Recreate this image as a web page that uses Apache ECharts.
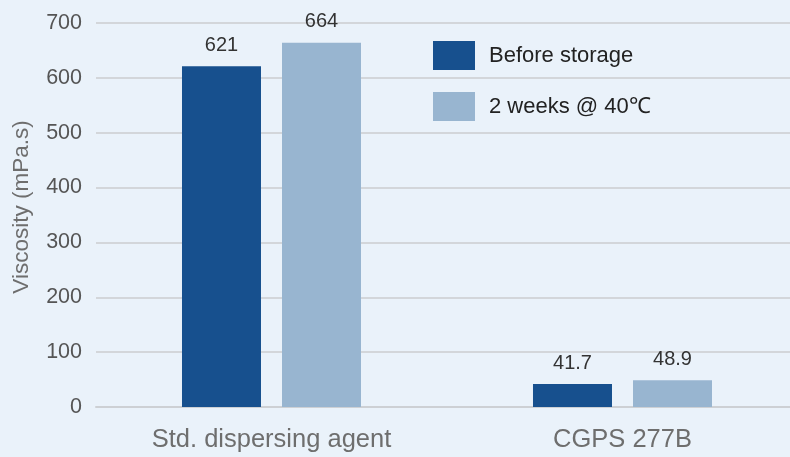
<!DOCTYPE html>
<html>
<head>
<meta charset="utf-8">
<script src="https://cdn.jsdelivr.net/npm/echarts@6/dist/echarts.min.js"></script>
<style>
html,body{margin:0;padding:0;background:#EAF2FA;}
#chart{width:790px;height:457px;}
</style>
</head>
<body>
<div id="chart"></div>
<script>
var categories = ['Std. dispersing agent', 'CGPS 277B'];
var seriesNames = ['Before storage', '2 weeks @ 40\u2103'];
var beforeStorage = [621, 41.7];
var after2Weeks = [664, 48.9];
var yTicks = [0, 100, 200, 300, 400, 500, 600, 700];

var FONT = '"Liberation Sans", Arial, Helvetica, sans-serif';
var chart = echarts.init(document.getElementById('chart'), null, {renderer: 'canvas'});
chart.setOption({
  backgroundColor: '#EAF2FA',
  animation: false,
  textStyle: {fontFamily: FONT},
  grid: {left: 96, width: 702, top: 23, height: 384, containLabel: false, outerBoundsMode: 'none'},
  legend: {
    orient: 'vertical',
    left: 433, top: 41,
    padding: 0,
    itemWidth: 42, itemHeight: 29, itemGap: 22,
    icon: 'rect',
    textStyle: {fontSize: 22, color: '#222', fontFamily: FONT, padding: [0, 0, 0, 9]},
    data: seriesNames
  },
  xAxis: {
    type: 'category',
    data: categories,
    axisLine: {show: true, lineStyle: {color: '#CDD0D4', width: 2}},
    axisTick: {show: false},
    axisLabel: {fontSize: 25.5, color: '#6E6E6E', margin: 20, fontFamily: FONT}
  },
  yAxis: {
    type: 'value',
    min: yTicks[0], max: yTicks[yTicks.length - 1], interval: 100,
    name: 'Viscosity (mPa.s)',
    nameLocation: 'middle',
    nameGap: 63,
    nameTextStyle: {fontSize: 22.5, color: '#6E6E6E', fontFamily: FONT, padding: [0, 0, 0, 16]},
    axisLine: {show: false},
    axisTick: {show: false},
    axisLabel: {fontSize: 21.5, color: '#555', margin: 14, fontFamily: FONT},
    splitLine: {lineStyle: {color: '#D3D6DA', width: 2}}
  },
  series: [
    {
      name: seriesNames[0], type: 'bar', data: beforeStorage,
      barWidth: 79, barGap: '26.6%',
      itemStyle: {color: '#17508E'},
      label: {show: true, position: 'top', distance: 11, fontSize: 20, color: '#333', fontFamily: FONT}
    },
    {
      name: seriesNames[1], type: 'bar', data: after2Weeks,
      barWidth: 79, barGap: '26.6%',
      itemStyle: {color: '#98B5D0'},
      label: {show: true, position: 'top', distance: 11, fontSize: 20, color: '#333', fontFamily: FONT}
    }
  ]
});
</script>
</body>
</html>
